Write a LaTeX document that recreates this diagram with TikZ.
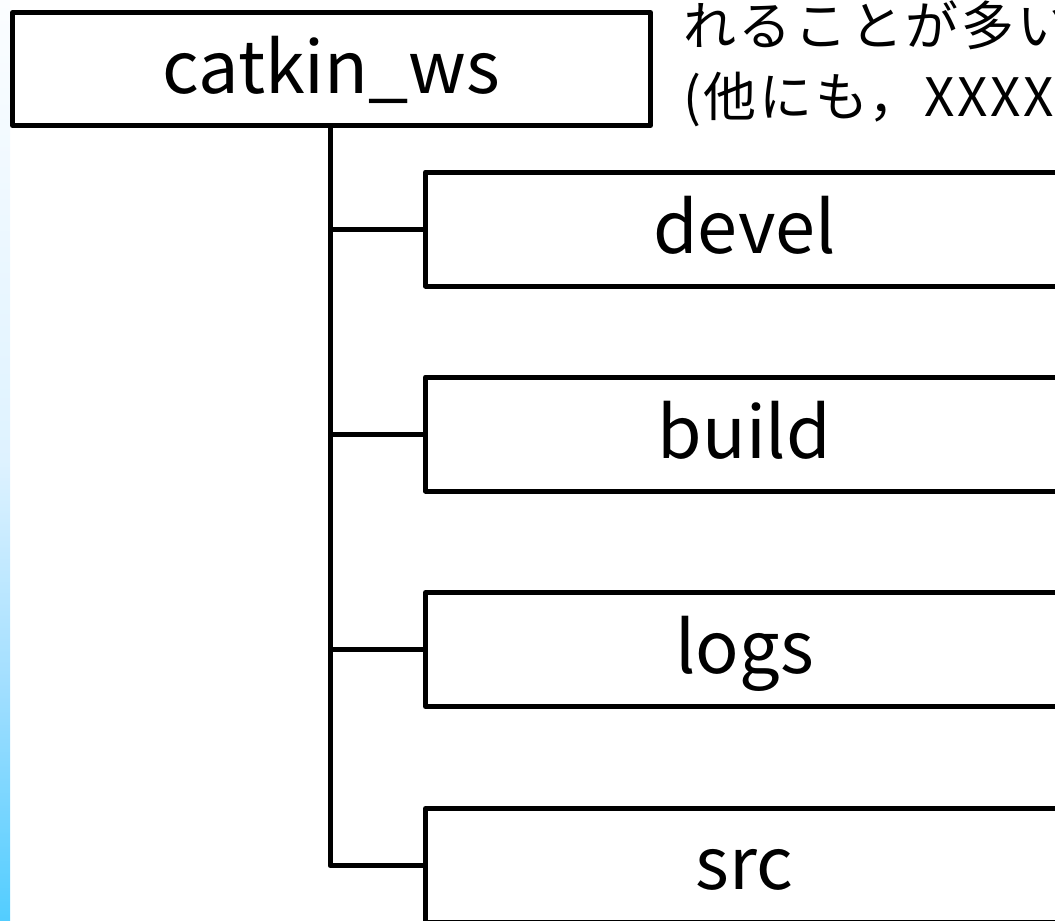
\documentclass[tikz,border=0pt]{standalone}
\usepackage{fontspec}
\setmainfont{Noto Sans CJK JP}
\newfontfamily\notefont[LetterSpace=5]{Noto Sans CJK JP}

% colours of the side strip, from top to bottom
\definecolor{stripA}{RGB}{251,253,255}
\definecolor{stripB}{RGB}{222,242,255}
\definecolor{stripC}{RGB}{160,222,255}
\definecolor{stripD}{RGB}{82,205,255}

% the path is mapped onto the band 25bp..75bp of the shading
\pgfdeclareverticalshading{sidestrip}{100bp}{%
  color(0bp)=(stripD); color(25bp)=(stripD); color(37.5bp)=(stripC);
  color(50bp)=(stripB); color(75bp)=(stripA); color(100bp)=(stripA)}

\begin{document}
\begin{tikzpicture}[x=1pt,y=-1pt,
  dirbox/.style={draw=black, line width=5pt, line join=round, rectangle,
    inner sep=0pt, text height=48pt, text depth=0pt,
    font=\fontsize{72}{86}\selectfont, text=black},
  link/.style={draw=black, line width=5pt, line join=round},
  note/.style={anchor=base west, inner sep=0pt, font=\notefont\fontsize{53}{64}\selectfont, text=black}]
\useasboundingbox (0,0) rectangle (1055,921);
\clip (0,0) rectangle (1055,921);

% gradient strip on the left edge
\shade[shading=sidestrip] (0,0) rectangle (10,921);

% workspace root
\node[dirbox, minimum width=638pt, minimum height=113pt] (ws) at (331.5,69) {catkin\_ws};

% sub-directories
\node[dirbox, minimum width=638pt, minimum height=114pt] (devel) at (744.5,229)   {devel};
\node[dirbox, minimum width=638pt, minimum height=114pt] (build) at (744.5,434)   {build};
\node[dirbox, minimum width=638pt, minimum height=114pt] (logs)  at (744.5,649.5) {logs};
\node[dirbox, minimum width=638pt, minimum height=114pt] (src)   at (744.5,865.5) {src};

% tree lines
\coordinate (trunk) at (330,0);
\draw[link] (ws.south -| trunk) -- (trunk |- src.west) -- (src.west);
\draw[link] (trunk |- devel.west) -- (devel.west);
\draw[link] (trunk |- build.west) -- (build.west);
\draw[link] (trunk |- logs.west) -- (logs.west);

% note text
\node[note] (n1) at (683,45)  {れることが多い};
\node[note] (n2) at (683,116) {(他にも，XXXX};
\end{tikzpicture}
\end{document}
